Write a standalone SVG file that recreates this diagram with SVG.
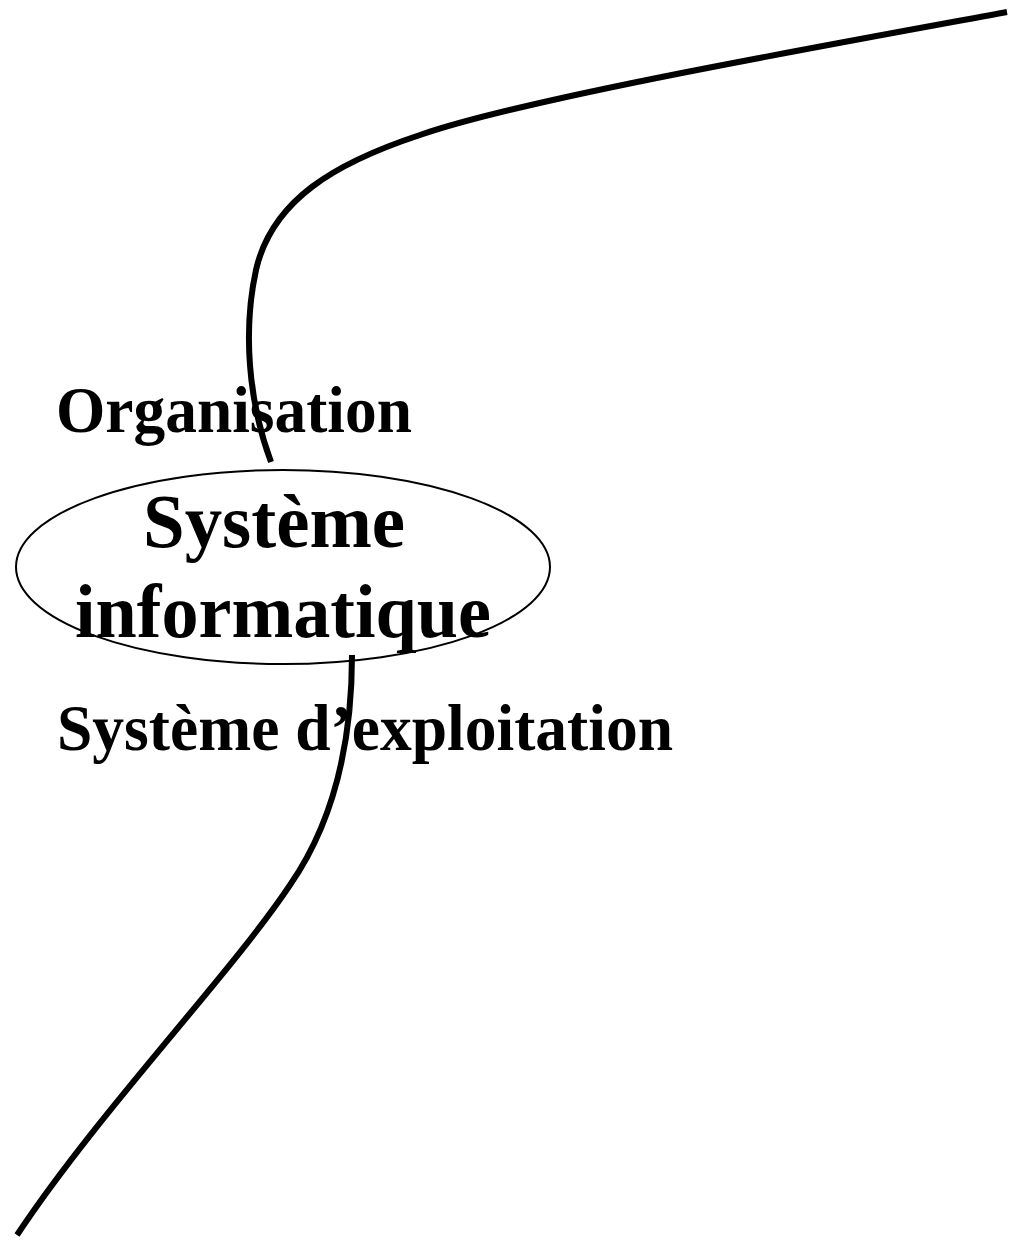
<svg xmlns="http://www.w3.org/2000/svg" width="1015" height="1241" viewBox="0 0 1015 1241">
  <style>
    .bg { fill: #ffffff; }
    .lbl { font-family: "Liberation Serif", "Times New Roman", serif; font-weight: bold; fill: #000000; }
    .big { font-size: 77px; }
    .mid { font-size: 66px; }
    .curve { fill: none; stroke: #000000; stroke-width: 6; stroke-linecap: butt; stroke-linejoin: round; }
    .oval { fill: none; stroke: #000000; stroke-width: 2; }
  </style>
  <rect class="bg" x="0" y="0" width="1015" height="1241"/>

  <!-- boundary lines -->
  <g id="connectors">
    <path class="curve" d="M1007,12 C800,50 520,100 420,135 C335,163 272,200 256,270 C243,330 248,400 271,462"/>
    <path class="curve" d="M352,655 C352,740 335,820 290,885 C230,975 100,1110 17,1235"/>
  </g>

  <g id="organisation">
    <text class="lbl mid" x="56" y="432" textLength="356" lengthAdjust="spacingAndGlyphs">Organisation</text>
  </g>

  <g id="systeme-informatique">
    <ellipse class="oval" cx="283" cy="567" rx="267" ry="97"/>
    <text class="lbl big" x="143" y="547" textLength="262" lengthAdjust="spacingAndGlyphs">Système</text>
    <text class="lbl big" x="75" y="637" textLength="416" lengthAdjust="spacingAndGlyphs">informatique</text>
  </g>

  <g id="systeme-exploitation">
    <text class="lbl mid" x="57" y="750" textLength="616" lengthAdjust="spacingAndGlyphs">Système d’exploitation</text>
  </g>
</svg>
